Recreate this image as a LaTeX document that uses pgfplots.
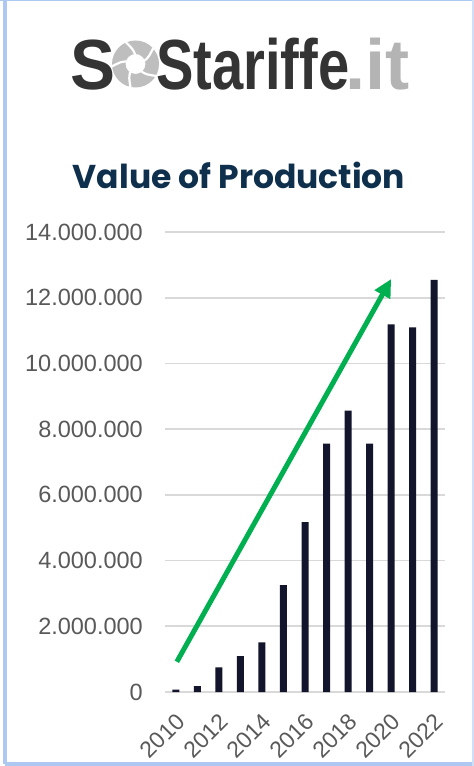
\documentclass[border=0pt]{standalone}
\usepackage{pgfplots}
\pgfplotsset{compat=1.18}
\usetikzlibrary{arrows.meta}
\usepackage{fontspec}
\setmainfont{Liberation Sans}
\newfontfamily\titlefont{Poppins}
\definecolor{borderblue}{RGB}{173,201,242}
\definecolor{barnavy}{RGB}{18,21,43}
\definecolor{arrowgreen}{RGB}{0,176,80}
\definecolor{titlenavy}{RGB}{14,48,77}
\definecolor{logodark}{RGB}{52,52,52}
\definecolor{logolight}{RGB}{180,180,180}
\definecolor{ringgray}{RGB}{190,190,190}
\definecolor{ticklab}{RGB}{89,89,89}
\definecolor{gridgray}{RGB}{217,217,217}
\begin{document}
\begin{tikzpicture}[x=1pt,y=1pt]
\useasboundingbox (0,0) rectangle (474,766);
\fill[white] (0,0) rectangle (474,766);
% border
\draw[borderblue, line width=3.4pt] (5,2) -- (5,765);
\draw[borderblue, line width=3.4pt] (5,2) -- (474,2);
\draw[borderblue, line width=2pt] (0,765.5) -- (474,765.5);
\draw[borderblue!60, line width=1.6pt] (473,0) -- (473,766);
% logo
\node[anchor=base west, inner sep=0pt, text=logodark, font=\fontsize{71}{71}\selectfont\bfseries] at (70,676) {\scalebox{0.95}[1]{S}};
\begin{scope}[shift={(135.5,702)}]
  \fill[ringgray, even odd rule] (0,0) circle (23.5) (0,0) circle (10);
  \foreach \a in {20,92,164,236,308}{
    \draw[white, line width=2.2pt] (\a:9.5) .. controls (\a+8:15) .. (\a+22:24);
  }
\end{scope}
\node[anchor=base west, inner sep=0pt, text=logodark, font=\fontsize{71}{71}\selectfont\bfseries] at (156,676) {\scalebox{0.79}[1]{Stariffe}};
\node[anchor=base west, inner sep=0pt, text=logolight, font=\fontsize{71}{71}\selectfont\bfseries] at (345,676) {\scalebox{1.02}[1]{.it}};
% title
\node[anchor=base, inner sep=0pt, text=titlenavy, font=\titlefont\fontsize{33}{33}\selectfont\bfseries] at (239,577) {Value of Production};
\begin{axis}[
  at={(165pt,74pt)}, anchor=south west,
  scale only axis, width=280pt, height=460pt,
  xmin=2009.5, xmax=2022.5, ymin=0, ymax=14000000,
  axis line style={draw=none},
  major tick length=0pt,
  ytick={0,2000000,4000000,6000000,8000000,10000000,12000000,14000000},
  scaled y ticks=false,
  ymajorgrids, grid style={gridgray, line width=1.8pt},
  /pgf/number format/assume math mode=true,
  yticklabel style={/pgf/number format/.cd, fixed, 1000 sep={.}, /tikz/.cd, font=\fontsize{23.5}{23.5}\selectfont, text=ticklab, anchor=east, inner sep=0pt, xshift=-22pt},
  xtick={2010,2012,2014,2016,2018,2020,2022},
  xticklabels={2010,2012,2014,2016,2018,2020,2022},
  xticklabel style={font=\fontsize{23}{23}\selectfont, text=ticklab, xshift=-1pt, yshift=-20pt, rotate=45, anchor=north east, inner sep=0pt},
  clip=false,
]
\addplot[ybar, bar width=7pt, fill=barnavy, draw=none] coordinates {
  (2010,70000) (2011,180000) (2012,750000) (2013,1090000) (2014,1510000)
  (2015,3250000) (2016,5170000) (2017,7560000) (2018,8560000) (2019,7560000)
  (2020,11190000) (2021,11100000) (2022,12540000)
};
\addplot[arrowgreen, line width=5pt, -{Triangle[length=18pt,width=17pt]}, forget plot] coordinates {(2010.05,920000) (2020,12570000)};
\end{axis}
\end{tikzpicture}
\end{document}
